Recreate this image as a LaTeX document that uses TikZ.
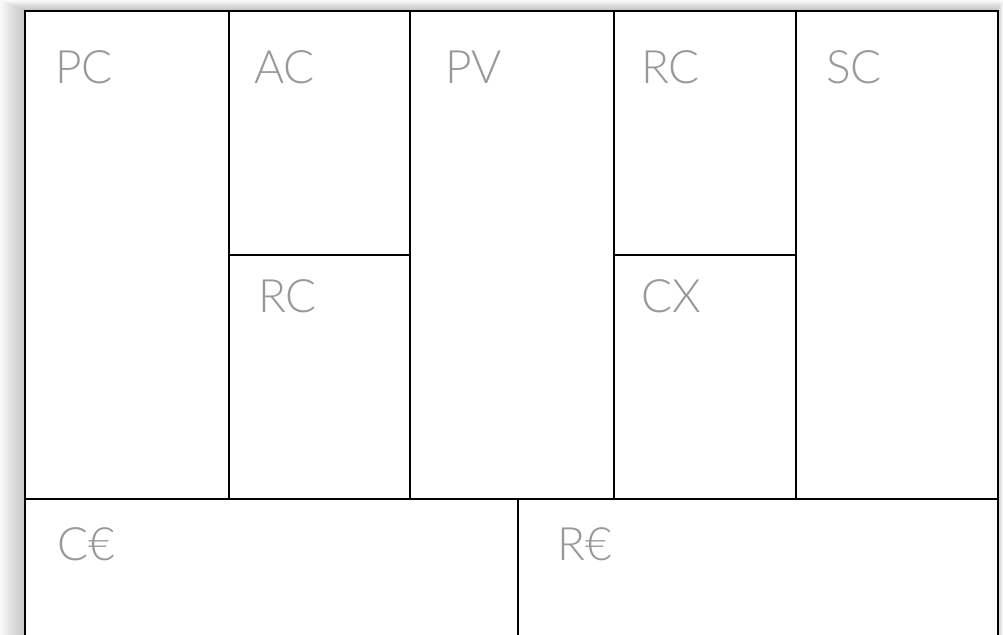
\documentclass[tikz,border=0pt]{standalone}
\usepackage{fontspec}
\newfontfamily\labelfont{Lato}[UprightFont=* Light]
\usetikzlibrary{positioning}
\definecolor{labelgray}{RGB}{152,152,152}
\tikzset{
  cell/.style = {draw=black, fill=white, line width=2pt, anchor=north west,
                 inner sep=0pt},
  tag/.style  = {anchor=base west, text=labelgray, inner sep=0pt,
                 font=\labelfont\fontsize{46}{46}\selectfont},
}

\begin{document}
\begin{tikzpicture}[x=1pt, y=-1pt]
  \useasboundingbox (0,0) rectangle (1003,634);
  \clip (0,0) rectangle (1003,634);
  % soft shadow behind the canvas
  \foreach \s in {1,...,12} {
    \fill[black, opacity=0.018] (24-2*\s,10-0.8*\s) rectangle (997+0.5*\s,700);
  }
  % canvas blocks
  \foreach \name/\x/\y/\w/\h in {pc/24/10/204/488, ac/228/10/181/244,
      rca/228/254/181/244, pv/409/10/204/488, rcb/613/10/182/244,
      cx/613/254/182/244, sc/795/10/202/488, ce/24/498/493/200,
      re/517/498/480/200} {
    \node[cell, minimum width=\w pt, minimum height=\h pt] (\name) at (\x,\y) {};
  }
  % block titles
  \foreach \name/\x/\y/\txt in {pc/55/83/PC, ac/254/83/AC, pv/445/83/PV,
      rcb/641/83/RC, sc/826/83/SC, rca/258/312/RC, cx/641/312/CX,
      ce/57/560/C€, re/557/560/R€} {
    \node[tag] (t-\name) at (\x,\y) {\txt};
  }
\end{tikzpicture}
\end{document}
